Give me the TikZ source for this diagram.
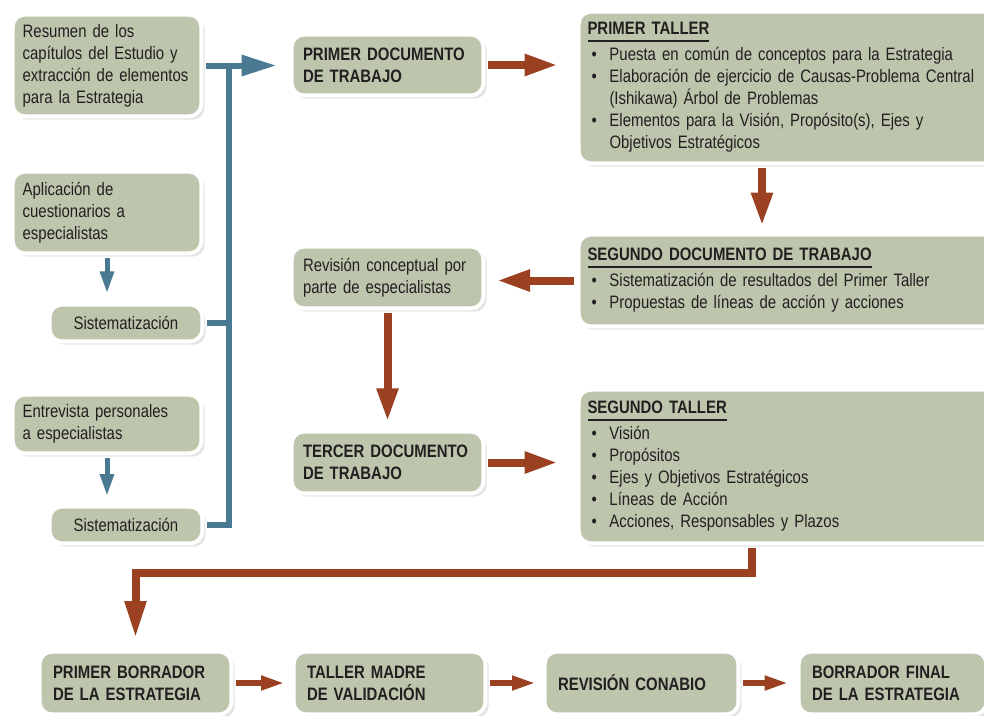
\documentclass[tikz,border=0pt]{standalone}
\usepackage{fontspec}
\setmainfont{Liberation Sans}[FakeStretch=0.83]
\usetikzlibrary{arrows.meta,shadows}
\definecolor{boxfill}{RGB}{189,198,173}
\definecolor{bl}{RGB}{74,122,145}
\definecolor{rd}{RGB}{156,64,34}
\definecolor{txt}{RGB}{35,31,32}
\newcommand\bul{\hspace*{3pt}\makebox[13.5pt][l]{\textbullet}}
\newcommand\ttl[1]{\setbox0\hbox{\bfseries #1}\rlap{\rule[-5.5pt]{\wd0}{1.6pt}}\box0}
\newcommand\ind{\hspace*{16.5pt}}
\begin{document}
\begin{tikzpicture}[x=0.75pt,y=-0.75pt,
  box/.style={fill=boxfill, draw=white, line width=3pt, rounded corners=9pt,
    drop shadow={shadow xshift=2.5pt, shadow yshift=-2.5pt, opacity=0.10, fill=black},
    drop shadow={shadow xshift=1.2pt, shadow yshift=-1.2pt, opacity=0.14, fill=black},
    inner xsep=7.5pt, inner ysep=2pt, align=left, text=txt,
    font=\fontsize{13.5}{16.5}\selectfont},
  tbox/.style={box, inner xsep=8.5pt, font=\fontsize{13.5}{16.5}\selectfont\bfseries},
  lbox/.style={box, minimum width=141.5pt, text width=126.5pt},
  sbox/.style={box, minimum width=114.5pt, minimum height=27.5pt, align=center},
  mbox/.style={tbox, minimum width=143.75pt, text width=126.75pt},
  bbox/.style={tbox, inner xsep=10pt, minimum height=47pt},
  rbox/.style={box, inner xsep=6.5pt, minimum width=337.25pt, text width=324pt},
  blarrow/.style={draw=bl, line width=4.5pt, shorten <=2pt, -{Triangle[length=26pt,width=15pt]}},
  blsmall/.style={draw=bl, line width=3.75pt, shorten <=2pt, -{Triangle[length=16.5pt,width=10pt]}},
  blline/.style={draw=bl, line width=4.5pt, shorten <=2pt},
  rdarrow/.style={draw=rd, line width=6pt, shorten <=2pt, -{Triangle[length=25pt,width=15pt]}},
  rdsmall/.style={draw=rd, line width=4.5pt, shorten <=2pt, -{Triangle[length=18pt,width=10pt]}}
]
\useasboundingbox (0,0) rectangle (984,715);
\clip (0,0) rectangle (984,715);

% left column
\node[lbox, minimum height=76.25pt] (res) at (107,65.5)
  {Resumen de los\\capítulos del Estudio y\\extracción de elementos\\para la Estrategia};
\node[lbox, minimum height=61.25pt] (apl) at (107,212.5)
  {Aplicación de\\cuestionarios a\\especialistas};
\node[sbox] (sis1) at (126,323) {Sistematización};
\node[lbox, minimum height=44pt] (ent) at (107,424)
  {Entrevista personales\\a especialistas};
\node[sbox] (sis2) at (126,525) {Sistematización};

% middle column
\node[mbox, minimum height=45.5pt] (doc1) at (387.5,65) {PRIMER DOCUMENTO\\DE TRABAJO};
\node[box, inner xsep=8.5pt, minimum width=143.75pt, text width=126.75pt, minimum height=46.25pt] (rev) at (387.5,277.5)
  {Revisión conceptual por\\parte de especialistas};
\node[mbox, minimum height=46.25pt] (doc3) at (387.5,462.5) {TERCER DOCUMENTO\\DE TRABAJO};

% right column
\node[rbox, minimum height=113.75pt] (taller1) at (803.5,87.5)
  {\ttl{PRIMER TALLER}\\[3pt]
   \bul Puesta en común de conceptos para la Estrategia\\
   \bul Elaboración de ejercicio de Causas-Problema Central\\
   \ind(Ishikawa) Árbol de Problemas\\
   \bul Elementos para la Visión, Propósito(s), Ejes y\\
   \ind Objetivos Estratégicos};
\node[rbox, minimum height=68.75pt] (doc2) at (803.5,280.5)
  {\ttl{SEGUNDO DOCUMENTO DE TRABAJO}\\[3pt]
   \bul Sistematización de resultados del Primer Taller\\
   \bul Propuestas de líneas de acción y acciones};
\node[rbox, minimum height=115.25pt] (taller2) at (803.5,466.5)
  {\ttl{SEGUNDO TALLER}\\[3pt]
   \bul Visión\\
   \bul Propósitos\\
   \bul Ejes y Objetivos Estratégicos\\
   \bul Líneas de Acción\\
   \bul Acciones, Responsables y Plazos};

% bottom row
\node[bbox, minimum width=143.75pt, text width=123.75pt] (bor1) at (135.5,683) {PRIMER BORRADOR\\DE LA ESTRATEGIA};
\node[bbox, minimum width=143.75pt, text width=123.75pt] (madre) at (389.5,683) {TALLER MADRE\\DE VALIDACIÓN};
\node[bbox, minimum width=145.25pt, text width=125.25pt] (conabio) at (641.5,683) {REVISIÓN CONABIO};
\node[bbox, minimum width=140.75pt, text width=120.75pt] (final) at (892.5,683) {BORRADOR FINAL\\DE LA ESTRATEGIA};

% blue connectors
\coordinate (trunk) at (229,0);
\path[blarrow, shorten >=10pt] (res.east) -- (res.east -| doc1.west);
\path[blline] (sis2.east) -| ([yshift=2.25pt]trunk |- res.east);
\path[blline] (sis1.east) -- (sis1.east -| trunk);
\path[blsmall, shorten >=7pt] (apl.south) -- (apl.south |- sis1.north);
\path[blsmall, shorten >=6.5pt] (ent.south) -- (ent.south |- sis2.north);

% red connectors
\coordinate (v1) at (762,0);
\coordinate (v2) at (752,0);
\coordinate (turn) at (0,573);
\path[rdarrow, shorten >=14pt] (doc1.east) -- (doc1.east -| taller1.west);
\path[rdarrow, shorten >=5pt] (taller1.south -| v1) -- (doc2.north -| v1);
\path[rdarrow, shorten >=8.5pt] (doc2.west) -- (doc2.west -| rev.east);
\path[rdarrow, shorten >=6pt] (rev.south) -- (rev.south |- doc3.north);
\path[rdarrow, shorten >=14pt] (doc3.east) -- (doc3.east -| taller2.west);
\path[rdarrow, shorten >=8.5pt, -{Triangle[length=28pt,width=15pt]}] (taller2.south -| v2) |- (turn -| bor1.north) -- (bor1.north);
\path[rdsmall, shorten >=5pt] (bor1.east) -- (madre.west);
\path[rdsmall, shorten >=5pt] (madre.east) -- (conabio.west);
\path[rdsmall, shorten >=6pt] (conabio.east) -- (final.west);
\end{tikzpicture}
\end{document}
